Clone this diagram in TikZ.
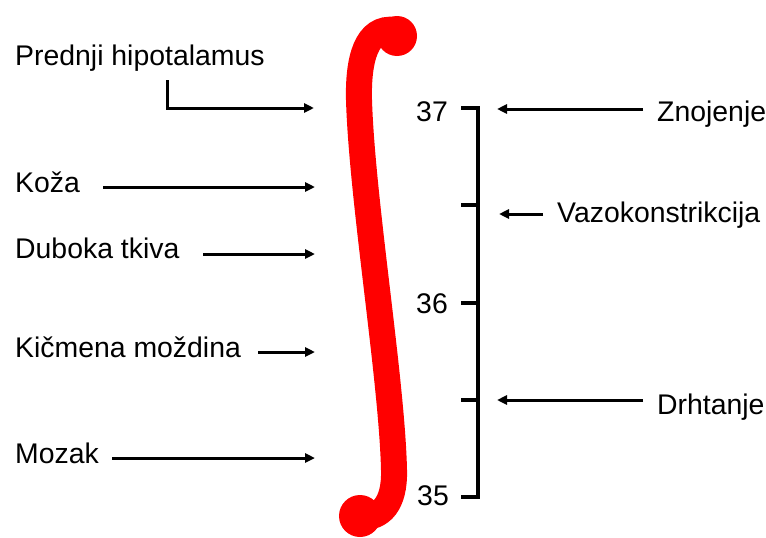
\documentclass[tikz,border=0pt]{standalone}
\usepackage{fontspec}
\setmainfont{Liberation Sans}
\usetikzlibrary{arrows.meta}
\begin{document}
\begin{tikzpicture}[x=1pt,y=-1pt,
  lbl/.style={anchor=base west,inner sep=0pt,font=\fontsize{28.4}{30}\selectfont},
  num/.style={anchor=base,inner sep=0pt,font=\fontsize{28.4}{30}\selectfont},
  arr/.style={line width=3pt,-{Triangle[length=10pt,width=9pt]}},
  scale line/.style={line width=3.5pt},
  integ/.style={red,line width=26pt,line cap=round}]
\useasboundingbox (0,0) rectangle (766,538);
% left labels
\node[lbl] (ph) at (15,65) {Prednji hipotalamus};
\node[lbl] (koza) at (15,192) {Koža};
\node[lbl] (dub) at (15,258) {Duboka tkiva};
\node[lbl] (kic) at (15,357) {Kičmena moždina};
\node[lbl] (moz) at (15,463) {Mozak};
% arrow endpoints
\coordinate (phs) at (167,80);
\coordinate (phc) at (167,108);
\coordinate (phe) at (314,108);
\coordinate (kozs) at (103,187);
\coordinate (koze) at (315,187);
\coordinate (dubs) at (203,254);
\coordinate (dube) at (315,254);
\coordinate (kics) at (258,352);
\coordinate (kice) at (315,352);
\coordinate (mozs) at (112,458);
\coordinate (moze) at (315,458);
\draw[arr] (phs) -- (phc) -- (phe);
\draw[arr] (kozs) -- (koze);
\draw[arr] (dubs) -- (dube);
\draw[arr] (kics) -- (kice);
\draw[arr] (mozs) -- (moze);
% integral sign
\fill[red] (397,36) circle (20);
\fill[red] (360,516) circle (21);
\draw[integ] (395,30) .. controls (366,26) and (358,60) .. (359,100)
  .. controls (362,200) and (392,380) .. (394,470)
  .. controls (395,505) and (380,518) .. (362,517);
% scale
\coordinate (t37) at (478,108);
\coordinate (t35) at (478,497);
\coordinate (tv) at (478,205);
\coordinate (t36) at (478,303);
\coordinate (td) at (478,400);
\draw[scale line] (461,108) -- (t37) -- (t35) -- (461,497);
\draw[scale line] (461,205) -- (tv);
\draw[scale line] (461,303) -- (t36);
\draw[scale line] (461,400) -- (td);
\node[num] (n37) at (432,121) {37};
\node[num] (n36) at (432,313) {36};
\node[num] (n35) at (433,505) {35};
% right labels
\node[lbl] (zno) at (657,121) {Znojenje};
\node[lbl] (vaz) at (557,222) {Vazokonstrikcija};
\node[lbl] (drh) at (657,414) {Drhtanje};
\coordinate (znos) at (643,109);
\coordinate (znoe) at (497,109);
\coordinate (vazs) at (543,214);
\coordinate (vaze) at (499,214);
\coordinate (drhs) at (643,400);
\coordinate (drhe) at (497,400);
\draw[arr] (znos) -- (znoe);
\draw[arr] (vazs) -- (vaze);
\draw[arr] (drhs) -- (drhe);
\end{tikzpicture}
\end{document}
